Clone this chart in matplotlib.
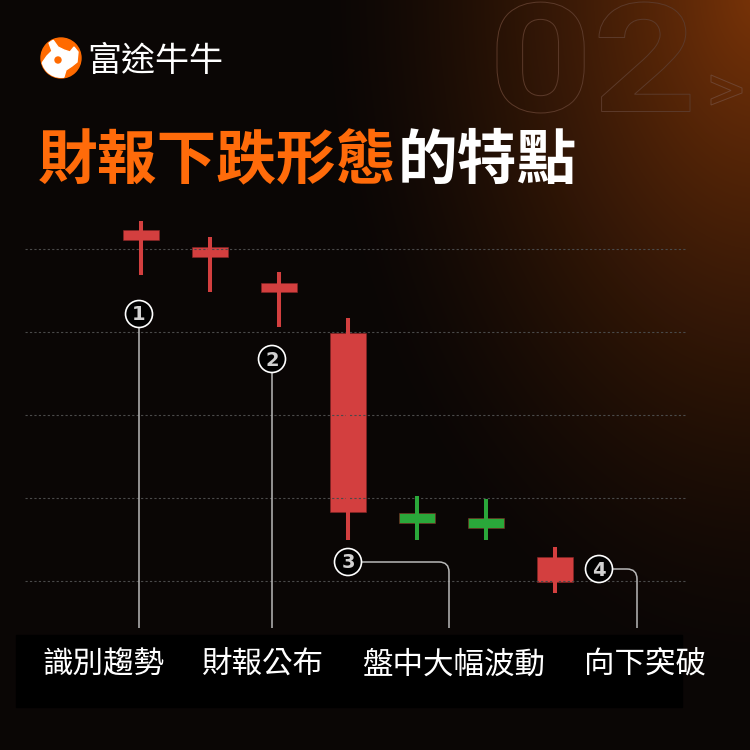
#%%
import numpy as np
import matplotlib.pyplot as plt
from matplotlib.patches import Circle, Rectangle, Polygon, PathPatch
from matplotlib.path import Path
from matplotlib.textpath import TextPath
from matplotlib.font_manager import FontProperties
from matplotlib.transforms import Affine2D

plt.rcParams['font.family'] = ['Noto Sans CJK TC', 'DejaVu Sans']

# candle data (price units, grid at 60..100)
opens = [101.1, 99.0, 94.8, 89.9, 67.0, 66.4, 62.9]
closes = [102.3, 100.2, 95.9, 68.3, 68.2, 67.6, 59.9]
highs = [103.4, 101.4, 97.2, 91.7, 70.2, 69.9, 64.1]
lows = [96.9, 94.8, 90.6, 64.9, 64.9, 64.9, 58.6]
candle_colors = ['#d33f3f', '#d33f3f', '#d33f3f', '#d33f3f', '#2aa83a', '#2aa83a', '#d33f3f']
grid_levels = [100, 90, 80, 70, 60]

labels = ['識別趨勢', '財報公布', '盤中大幅波動', '向下突破']
marker_numbers = ['1', '2', '3', '4']

title_orange = '財報下跌形態'
title_white = '的特點'
brand = '富途牛牛'

ORANGE = '#ff6b0a'
BG = np.array([10, 6, 5]) / 255
GLOW = np.array([122, 52, 8]) / 255

#%%
fig = plt.figure(figsize=(7.5, 7.5), dpi=100)

# background with orange glow in top right
bg = fig.add_axes([0, 0, 1, 1], zorder=0)
yy, xx = np.mgrid[0:750, 0:750]
r = np.sqrt(((xx - 760) / 450) ** 2 + ((yy + 10) / 700) ** 2)
t = np.clip(1 - r, 0, 1) ** 1.5
img = BG[None, None, :] * (1 - t[..., None]) + GLOW[None, None, :] * t[..., None]
bg.imshow(img, extent=[0, 750, 750, 0], aspect='auto')
bg.set_xlim(0, 750)
bg.set_ylim(750, 0)
bg.axis('off')

# candle chart axes: index 0 at x=141px, 69px per candle; price 100 at y=249px, 8.3px per unit
X0, DX = 141, 69
Y0, DY = 249, 8.3
ax = fig.add_axes([0, 0, 1, 1], zorder=1)
ax.patch.set_alpha(0)
ax.set_xlim(-X0 / DX, (750 - X0) / DX)
ax.set_ylim(100 - (750 - Y0) / DY, 100 + Y0 / DY)
ax.axis('off')

ax.hlines(grid_levels, (25 - X0) / DX, (686 - X0) / DX, colors='#4a4a4a',
          linestyles=(0, (2, 2)), linewidth=0.8)

idx = np.arange(len(opens))
bottoms = np.minimum(opens, closes)
heights = np.abs(np.array(closes) - np.array(opens))
ax.vlines(idx, lows, highs, colors=candle_colors, linewidth=2.9)
ax.bar(idx, heights, bottom=bottoms, width=36 / DX, color=candle_colors,
       edgecolor='#8a2525', linewidth=0.4)

#%%
# overlay in pixel coords for the decorations
ov = fig.add_axes([0, 0, 1, 1], zorder=2)
ov.patch.set_alpha(0)
ov.set_xlim(0, 750)
ov.set_ylim(750, 0)
ov.axis('off')

# big outlined "02", stretched into its box
tp = TextPath((0, 0), '02', size=100, prop=FontProperties(family='Roboto', weight='bold'))
ext = tp.get_extents()
bx0, bx1, by0, by1 = 497, 690, 2, 113
tr = (Affine2D().translate(-ext.x0, -ext.y0)
      .scale((bx1 - bx0) / ext.width, -(by1 - by0) / ext.height)
      .translate(bx0, by1))
ov.add_patch(PathPatch(tr.transform_path(tp), facecolor='none', edgecolor='#5c3a2a', linewidth=0.7))
ov.add_patch(Polygon([(711, 75), (742, 88), (742, 93), (711, 105), (711, 99), (731, 90.5), (711, 82)],
                     closed=True, facecolor='none', edgecolor='#6e4430', linewidth=0.7))

# logo
logo = Circle((61, 58), 20, color='#ff6a00')
ov.add_patch(logo)
head = Polygon([(40, 66), (47, 56), (52, 51), (49, 43), (53, 40), (58, 47), (64, 50), (70, 52),
                (74, 47), (78, 52), (77, 62), (72, 66), (66, 70), (63, 80), (55, 80), (46, 76), (40, 72)],
               closed=True, color='white')
ov.add_patch(head)
head.set_clip_path(logo)
ov.add_patch(Circle((58, 60), 3, color='#ff6a00'))
ov.text(87, 61, brand, color='white', fontsize=24.5, ha='left', va='center')

# title
ov.text(38, 162, title_orange, color=ORANGE, fontsize=43, fontweight='bold', ha='left', va='center')
ov.text(398, 162, title_white, color='white', fontsize=43, fontweight='bold', ha='left', va='center')

# numbered markers and connector lines
marker_pos = [(139, 314), (272, 359), (348, 562), (599, 569)]
corner_x = [None, None, 449, 637]
LINE_END = 628
RAD = 13.5
for (mx, my), cx, num in zip(marker_pos, corner_x, marker_numbers):
    if cx is None:
        verts = [(mx, my + RAD), (mx, LINE_END)]
        codes = [Path.MOVETO, Path.LINETO]
    else:
        verts = [(mx + RAD, my), (cx - 10, my), (cx, my), (cx, my + 10), (cx, LINE_END)]
        codes = [Path.MOVETO, Path.LINETO, Path.CURVE3, Path.CURVE3, Path.LINETO]
    ov.add_patch(PathPatch(Path(verts, codes), facecolor='none', edgecolor='#b8b8b8', linewidth=1.1))
    ov.add_patch(Circle((mx, my), RAD, facecolor='black', edgecolor='white', linewidth=1.2))
    ov.text(mx, my + 1, num, color='#d0d0d0', fontsize=14, fontweight='bold',
            ha='center', va='center', family='DejaVu Sans')

# label band
ov.add_patch(Rectangle((16, 635), 666, 72, color='black'))
label_x = [103, 262, 454, 645]
for lx, lab in zip(label_x, labels):
    ov.text(lx, 665, lab, color='white', fontsize=22, ha='center', va='center')

fig.savefig('out.png', dpi=100)
